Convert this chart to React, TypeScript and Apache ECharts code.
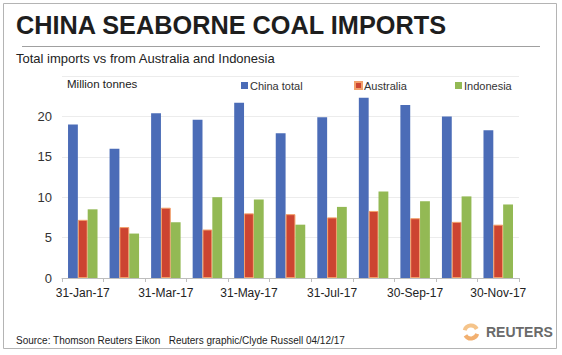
import React, { useEffect, useRef } from "react";
import * as echarts from "echarts";

const categories = [
  "31-Jan-17", "28-Feb-17", "31-Mar-17", "30-Apr-17", "31-May-17", "30-Jun-17",
  "31-Jul-17", "31-Aug-17", "30-Sep-17", "31-Oct-17", "30-Nov-17",
];
const chinaTotal = [19.0, 16.0, 20.4, 19.6, 21.7, 17.9, 19.9, 22.3, 21.4, 20.0, 18.3];
const australia = [7.2, 6.3, 8.7, 6.0, 8.0, 7.9, 7.5, 8.3, 7.4, 6.95, 6.6];
const indonesia = [8.5, 5.5, 6.9, 10.0, 9.7, 6.6, 8.8, 10.7, 9.5, 10.1, 9.1];
const seriesNames = ["China total", "Australia", "Indonesia"];

const FONT = "'Liberation Sans', Arial, sans-serif";

export default function App() {
  const ref = useRef<HTMLDivElement>(null);
  useEffect(() => {
    if (!ref.current) return;
    const chart = echarts.init(ref.current, null, { renderer: "svg" });
    const legendLefts = [241, 354, 455];
    chart.setOption({
      animation: false,
      backgroundColor: "#ffffff",
      textStyle: { fontFamily: FONT },
      grid: { left: 62, right: 43, top: 76, bottom: 77 },
      legend: seriesNames.map((n, i) => ({
        data: [n],
        left: legendLefts[i],
        top: 80,
        padding: 0,
        itemWidth: 7,
        itemHeight: 7,
        icon: "rect",
        textStyle: { fontSize: 11, color: "#333", fontFamily: FONT, padding: [0, 0, 0, -3] },
      })),
      xAxis: {
        type: "category",
        data: categories,
        axisLine: { lineStyle: { color: "#bdbdbd" } },
        axisTick: { show: true, interval: 0, length: 4, lineStyle: { color: "#bdbdbd" } },
        axisLabel: { interval: 1, fontSize: 12, color: "#222", margin: 9, fontFamily: FONT },
      },
      yAxis: {
        type: "value",
        min: 0,
        max: 25,
        interval: 5,
        axisLine: { show: false },
        axisTick: { show: false },
        axisLabel: { fontSize: 13, color: "#333", margin: 10, showMaxLabel: false, fontFamily: FONT },
        splitLine: { lineStyle: { color: "#ececec" } },
      },
      series: [
        {
          name: seriesNames[0], type: "bar", data: chinaTotal, barGap: "0%", barCategoryGap: "29%",
          itemStyle: { color: "#4b6cb7" },
        },
        {
          name: seriesNames[1], type: "bar", data: australia, barGap: "0%", barCategoryGap: "29%",
          itemStyle: { color: "#cc4431", borderColor: "#f2a06a", borderWidth: 1 },
        },
        {
          name: seriesNames[2], type: "bar", data: indonesia, barGap: "0%", barCategoryGap: "29%",
          itemStyle: { color: "#93b954" },
        },
      ],
      graphic: [
        { type: "rect", shape: { x: 3.5, y: 3.5, width: 553, height: 345 }, style: { fill: "none", stroke: "#b4b4b4", lineWidth: 1 }, silent: true },
        { type: "text", x: 16, y: 25, style: { text: "CHINA SEABORNE COAL IMPORTS", font: `bold 25.3px ${FONT}`, fill: "#1e1e1e", verticalAlign: "middle" } },
        { type: "line", shape: { x1: 22, y1: 46.5, x2: 540, y2: 46.5 }, style: { stroke: "#a0a0a0", lineWidth: 1 } },
        { type: "text", x: 16, y: 58, style: { text: "Total imports vs from Australia and Indonesia", font: `13px ${FONT}`, fill: "#222", verticalAlign: "middle" } },
        { type: "text", x: 67, y: 84, style: { text: "Million tonnes", font: `11.5px ${FONT}`, fill: "#222", verticalAlign: "middle" } },
        { type: "text", x: 16, y: 340, style: { text: "Source: Thomson Reuters Eikon   Reuters graphic/Clyde Russell 04/12/17", font: `10px ${FONT}`, fill: "#222", verticalAlign: "middle" } },
        { type: "arc", shape: { cx: 471, cy: 332, r: 6.5, startAngle: 0.3, endAngle: 2.6 }, style: { stroke: "#f2b070", lineWidth: 4, fill: "none" } },
        { type: "arc", shape: { cx: 471, cy: 332, r: 6.5, startAngle: 3.4, endAngle: 5.8 }, style: { stroke: "#f5c48a", lineWidth: 4, fill: "none" } },
        { type: "text", x: 486, y: 332, style: { text: "REUTERS", font: `bold 14px ${FONT}`, fill: "#6a6a6a", verticalAlign: "middle" } },
      ],
    });
    return () => chart.dispose();
  }, []);
  return <div ref={ref} style={{ position: "absolute", left: 0, top: 0, width: 562, height: 355 }} />;
}
